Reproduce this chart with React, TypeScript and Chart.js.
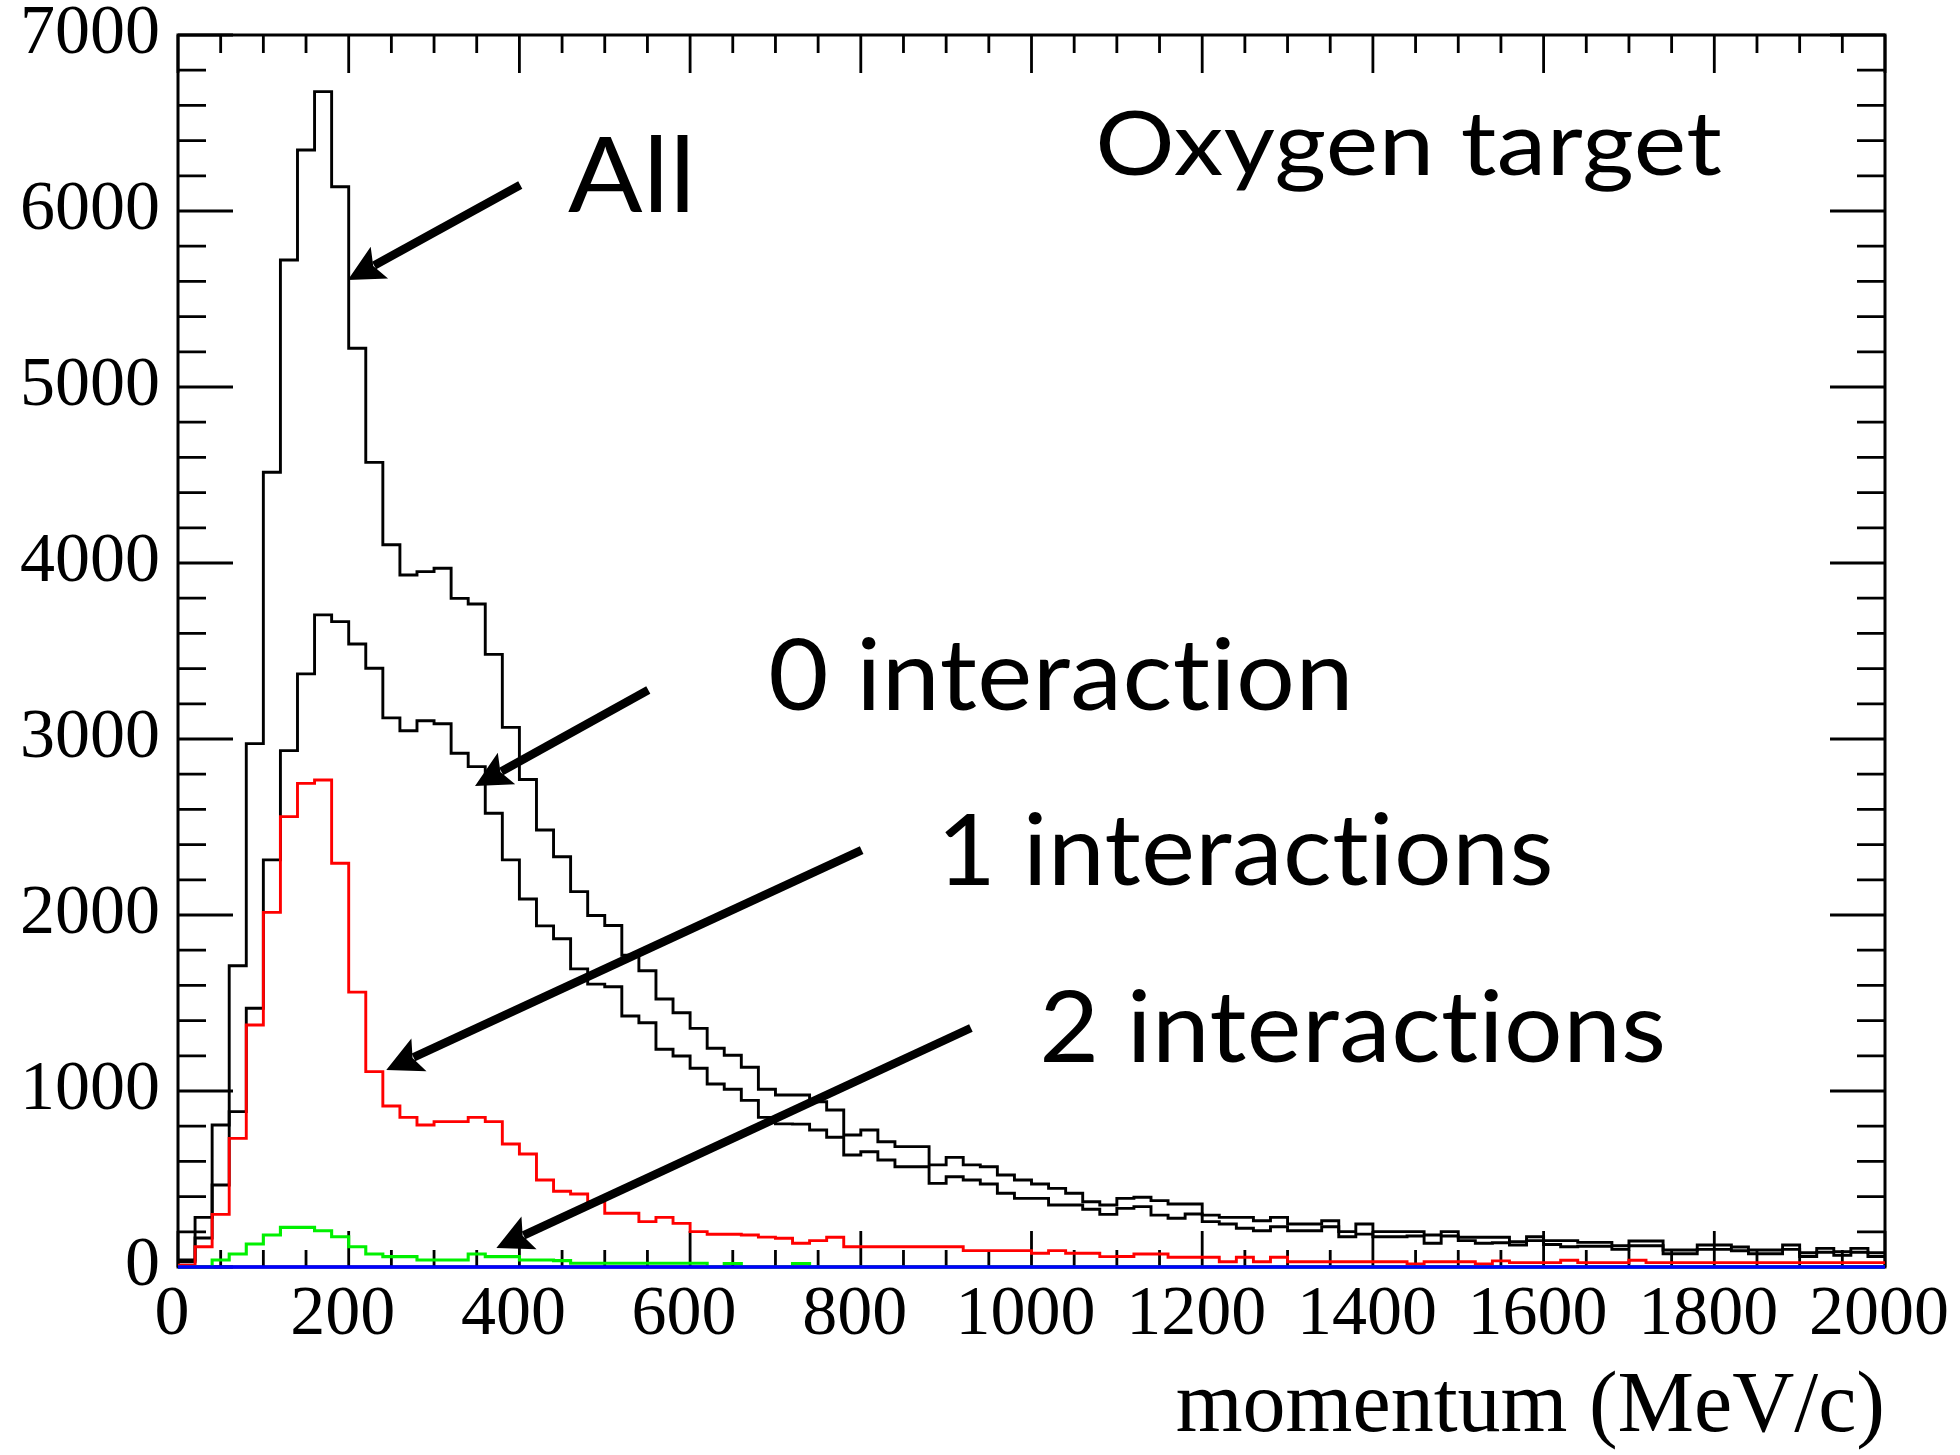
import React, { useEffect, useRef } from 'react';
import { Chart, registerables } from 'chart.js';

Chart.register(...registerables);

// Histogram: 100 bins of 20 MeV/c from 0 to 2000 MeV/c (lower bin edges)
const BIN_WIDTH = 20;
const N_BINS = 100;

// All events
const ALL_COUNTS = [
  40, 282, 807, 1712, 2974, 4516, 5722, 6347, 6678, 6138,
  5220, 4572, 4104, 3932, 3951, 3970, 3799, 3767, 3481, 3066,
  2770, 2483, 2331, 2133, 1997, 1940, 1771, 1683, 1523, 1445,
  1356, 1243, 1203, 1135, 1010, 977, 977, 939, 892, 750,
  778, 712, 684, 684, 580, 623, 580, 570, 523, 494,
  472, 447, 419, 371, 352, 390, 396, 377, 358, 358,
  295, 282, 282, 263, 282, 244, 244, 263, 201, 244,
  201, 201, 201, 182, 201, 169, 169, 169, 144, 172,
  150, 150, 140, 140, 121, 148, 148, 97, 97, 125,
  125, 114, 97, 97, 125, 81, 106, 87, 106, 81,
];

// 0 interaction
const ZERO_INT_COUNTS = [
  30, 165, 466, 883, 1470, 2313, 2934, 3370, 3705, 3667,
  3540, 3402, 3120, 3047, 3104, 3087, 2919, 2843, 2578, 2313,
  2091, 1938, 1865, 1694, 1607, 1592, 1426, 1388, 1237, 1199,
  1129, 1040, 1010, 947, 850, 813, 812, 778, 737, 636,
  655, 608, 570, 570, 475, 513, 494, 472, 419, 390,
  390, 352, 352, 328, 299, 333, 343, 295, 277, 301,
  258, 244, 220, 206, 229, 206, 206, 229, 172, 187,
  172, 172, 176, 135, 176, 150, 135, 138, 125, 150,
  128, 115, 118, 118, 100, 121, 121, 75, 75, 100,
  100, 92, 75, 75, 100, 60, 84, 66, 84, 60,
];

// 1 interaction (red)
const ONE_INT_COUNTS = [
  10, 115, 299, 731, 1375, 2015, 2559, 2748, 2767, 2294,
  1562, 1110, 915, 850, 807, 826, 826, 850, 826, 699,
  642, 494, 430, 415, 371, 305, 305, 258, 282, 248,
  201, 186, 186, 182, 170, 163, 135, 150, 169, 115,
  115, 115, 115, 115, 115, 115, 93, 93, 93, 93,
  78, 93, 78, 78, 59, 60, 74, 74, 55, 55,
  55, 30, 55, 30, 55, 30, 30, 30, 30, 30,
  30, 30, 17, 30, 30, 30, 17, 35, 25, 25,
  25, 38, 25, 25, 25, 38, 25, 25, 25, 25,
  25, 25, 25, 25, 25, 25, 25, 25, 25, 25,
];

// 2 interactions (green)
const TWO_INT_COUNTS = [
  0, 0, 40, 74, 131, 182, 225, 225, 206, 172,
  115, 74, 59, 59, 40, 40, 40, 74, 59, 59,
  40, 40, 36, 21, 21, 21, 21, 21, 21, 21,
  21, 0, 20, 0, 0, 0, 20, 0, 0, 0,
  0, 0, 0, 0, 0, 0, 0, 0, 0, 0,
  0, 0, 0, 0, 0, 0, 0, 0, 0, 0,
  0, 0, 0, 0, 0, 0, 0, 0, 0, 0,
  0, 0, 0, 0, 0, 0, 0, 0, 0, 0,
  0, 0, 0, 0, 0, 0, 0, 0, 0, 0,
  0, 0, 0, 0, 0, 0, 0, 0, 0, 0,
];

// 3+ interactions (blue)
const THREE_INT_COUNTS = [
  0, 0, 0, 0, 0, 0, 0, 0, 0, 0,
  0, 0, 0, 0, 0, 0, 0, 0, 0, 0,
  0, 0, 0, 0, 0, 0, 0, 0, 0, 0,
  0, 0, 0, 0, 0, 0, 0, 0, 0, 0,
  0, 0, 0, 0, 0, 0, 0, 0, 0, 0,
  0, 0, 0, 0, 0, 0, 0, 0, 0, 0,
  0, 0, 0, 0, 0, 0, 0, 0, 0, 0,
  0, 0, 0, 0, 0, 0, 0, 0, 0, 0,
  0, 0, 0, 0, 0, 0, 0, 0, 0, 0,
  0, 0, 0, 0, 0, 0, 0, 0, 0, 0,
];

const X_MIN = 0;
const X_MAX = 2000;
const X_STEP = 200;
const Y_MIN = 0;
const Y_MAX = 7000;
const Y_STEP = 1000;

const X_TITLE = 'momentum (MeV/c)';

// Annotations in data coordinates: text box [x0, x1] (MeV/c), baseline (counts)
const TEXT_LABELS = [
  { text: 'All', x0: 457, x1: 597, base: 5995, cap: 76 },
  { text: 'Oxygen target', x0: 1080, x1: 1809, base: 6205, cap: 65 },
  { text: '0 interaction', x0: 694, x1: 1370, base: 3165, cap: 72 },
  { text: '1 interactions', x0: 899, x1: 1607, base: 2170, cap: 72 },
  { text: '2 interactions', x0: 1014, x1: 1739, base: 1162, cap: 72 },
];

// Arrows in data coordinates: tail -> tip
const ARROWS = [
  { fx: 401, fy: 6148, tx: 199, ty: 5608 },
  { fx: 551, fy: 3278, tx: 348, ty: 2733 },
  { fx: 801, fy: 2369, tx: 244, ty: 1119 },
  { fx: 929, fy: 1358, tx: 373, ty: 108 },
];

function toSteps(counts: number[]) {
  const pts = counts.map((v, i) => ({ x: X_MIN + i * BIN_WIDTH, y: v }));
  pts.push({ x: X_MIN + N_BINS * BIN_WIDTH, y: counts[counts.length - 1] });
  return pts;
}

const frameTicks = {
  id: 'frameTicks',
  beforeDatasetsDraw(chart: any) {
    const { ctx, chartArea: a, scales } = chart;
    const x = scales.x;
    const y = scales.y;
    ctx.save();
    ctx.strokeStyle = '#000';
    ctx.lineWidth = 2.8;
    ctx.lineCap = 'butt';
    ctx.beginPath();
    for (let v = X_MIN; v <= X_MAX; v += 50) {
      const px = x.getPixelForValue(v);
      const major = v % 200 === 0;
      const lb = major ? 36 : 17;
      const lt = major ? 38 : 18;
      ctx.moveTo(px, a.bottom);
      ctx.lineTo(px, a.bottom - lb);
      ctx.moveTo(px, a.top);
      ctx.lineTo(px, a.top + lt);
    }
    for (let v = Y_MIN; v <= Y_MAX; v += 200) {
      const py = y.getPixelForValue(v);
      const major = v % 1000 === 0;
      const l = major ? 55 : 28;
      ctx.moveTo(a.left, py);
      ctx.lineTo(a.left + l, py);
      ctx.moveTo(a.right, py);
      ctx.lineTo(a.right - l, py);
    }
    ctx.stroke();
    ctx.lineWidth = 3;
    ctx.strokeRect(a.left, a.top, a.right - a.left, a.bottom - a.top);
    ctx.restore();
  },
};

function drawFitText(ctx: CanvasRenderingContext2D, text: string, left: number, right: number, baseline: number, cap: number) {
  const family = 'Lato, "Open Sans", sans-serif';
  ctx.save();
  try {
    (ctx as any).textRendering = 'optimizeSpeed';
    (ctx as any).letterSpacing = '0.5px';
  } catch (e) {
    /* ignore */
  }
  ctx.font = `100px ${family}`;
  const capM = ctx.measureText('H').actualBoundingBoxAscent || 72;
  const size = (100 * cap) / capM;
  ctx.font = `${size}px ${family}`;
  const m = ctx.measureText(text);
  const w = m.actualBoundingBoxLeft + m.actualBoundingBoxRight;
  const sx = (right - left) / w;
  ctx.translate(left, baseline);
  ctx.scale(sx, 1);
  ctx.textAlign = 'left';
  ctx.textBaseline = 'alphabetic';
  ctx.fillStyle = '#000';
  ctx.fillText(text, m.actualBoundingBoxLeft, 0);
  ctx.restore();
}

function drawArrow(ctx: CanvasRenderingContext2D, x1: number, y1: number, x2: number, y2: number) {
  const ang = Math.atan2(y2 - y1, x2 - x1);
  const headLen = 36;
  const halfW = 18;
  const c = Math.cos(ang);
  const s = Math.sin(ang);
  const bx = x2 - headLen * c;
  const by = y2 - headLen * s;
  ctx.save();
  ctx.strokeStyle = '#000';
  ctx.fillStyle = '#000';
  ctx.lineWidth = 8.5;
  ctx.lineCap = 'butt';
  ctx.beginPath();
  ctx.moveTo(x1, y1);
  ctx.lineTo(bx + 6 * c, by + 6 * s);
  ctx.stroke();
  ctx.beginPath();
  ctx.moveTo(x2, y2);
  ctx.lineTo(bx - halfW * s, by + halfW * c);
  ctx.lineTo(bx + 7 * c, by + 7 * s);
  ctx.lineTo(bx + halfW * s, by - halfW * c);
  ctx.closePath();
  ctx.fill();
  ctx.restore();
}

const annotations = {
  id: 'annotations',
  afterDatasetsDraw(chart: any) {
    const { ctx, scales } = chart;
    const x = scales.x;
    const y = scales.y;
    for (const a of ARROWS) {
      drawArrow(ctx, x.getPixelForValue(a.fx), y.getPixelForValue(a.fy), x.getPixelForValue(a.tx), y.getPixelForValue(a.ty));
    }
    for (const t of TEXT_LABELS) {
      drawFitText(ctx, t.text, x.getPixelForValue(t.x0), x.getPixelForValue(t.x1), y.getPixelForValue(t.base), t.cap);
    }
  },
};

const plainNumber = (v: any) => String(v);

export default function App() {
  const ref = useRef<HTMLCanvasElement | null>(null);
  useEffect(() => {
    document.body.style.margin = '0';
    const canvas = ref.current;
    if (!canvas) return;
    const line = (label: string, counts: number[], color: string, width: number, order: number) => ({
      label,
      data: toSteps(counts),
      borderColor: color,
      backgroundColor: color,
      borderWidth: width,
      pointRadius: 0,
      stepped: 'before' as const,
      tension: 0,
      fill: false,
      clip: false as any,
      order,
    });
    const serif = '"Liberation Serif", "DejaVu Serif", serif';
    const chart = new Chart(canvas, {
      type: 'line',
      data: {
        datasets: [
          line('All', ALL_COUNTS, '#000000', 2.9, 5),
          line('0 interaction', ZERO_INT_COUNTS, '#000000', 2.9, 4),
          line('1 interactions', ONE_INT_COUNTS, '#ff0000', 2.9, 3),
          line('2 interactions', TWO_INT_COUNTS, '#00f000', 3.1, 2),
          line('3 interactions', THREE_INT_COUNTS, '#0000ff', 3.4, 1),
        ],
      },
      options: {
        animation: false,
        responsive: false,
        maintainAspectRatio: false,
        layout: { padding: { top: 35, right: 75, left: 0, bottom: 0 } },
        plugins: { legend: { display: false }, tooltip: { enabled: false } },
        scales: {
          x: {
            type: 'linear',
            min: X_MIN,
            max: X_MAX,
            grid: { display: false, drawTicks: false },
            border: { display: false },
            ticks: {
              stepSize: X_STEP,
              autoSkip: false,
              maxRotation: 0,
              minRotation: 0,
              color: '#000',
              padding: 14,
              labelOffset: -6,
              callback: plainNumber,
              font: { family: serif, size: 70, lineHeight: 1 },
            },
            title: {
              display: true,
              text: X_TITLE,
              align: 'end',
              color: '#000',
              padding: { top: 0, bottom: 4 },
              font: { family: serif, size: 86, lineHeight: 1 },
            },
            afterFit: (s: any) => {
              s.height = 188;
              s.paddingLeft = 0;
              s.paddingRight = 0;
            },
          },
          y: {
            type: 'linear',
            min: Y_MIN,
            max: Y_MAX,
            grid: { display: false, drawTicks: false },
            border: { display: false },
            ticks: {
              stepSize: Y_STEP,
              autoSkip: false,
              color: '#000',
              padding: 18,
              callback: plainNumber,
              font: { family: serif, size: 70, lineHeight: 1 },
            },
            afterFit: (s: any) => {
              s.width = 178;
              s.paddingTop = 0;
              s.paddingBottom = 0;
            },
          },
        },
      } as any,
      plugins: [frameTicks, annotations],
    });
    return () => chart.destroy();
  }, []);
  return (
    <div style={{ position: 'absolute', left: 0, top: 0, width: 1960, height: 1455, background: '#fff' }}>
      <canvas ref={ref} width={1960} height={1455} />
    </div>
  );
}
